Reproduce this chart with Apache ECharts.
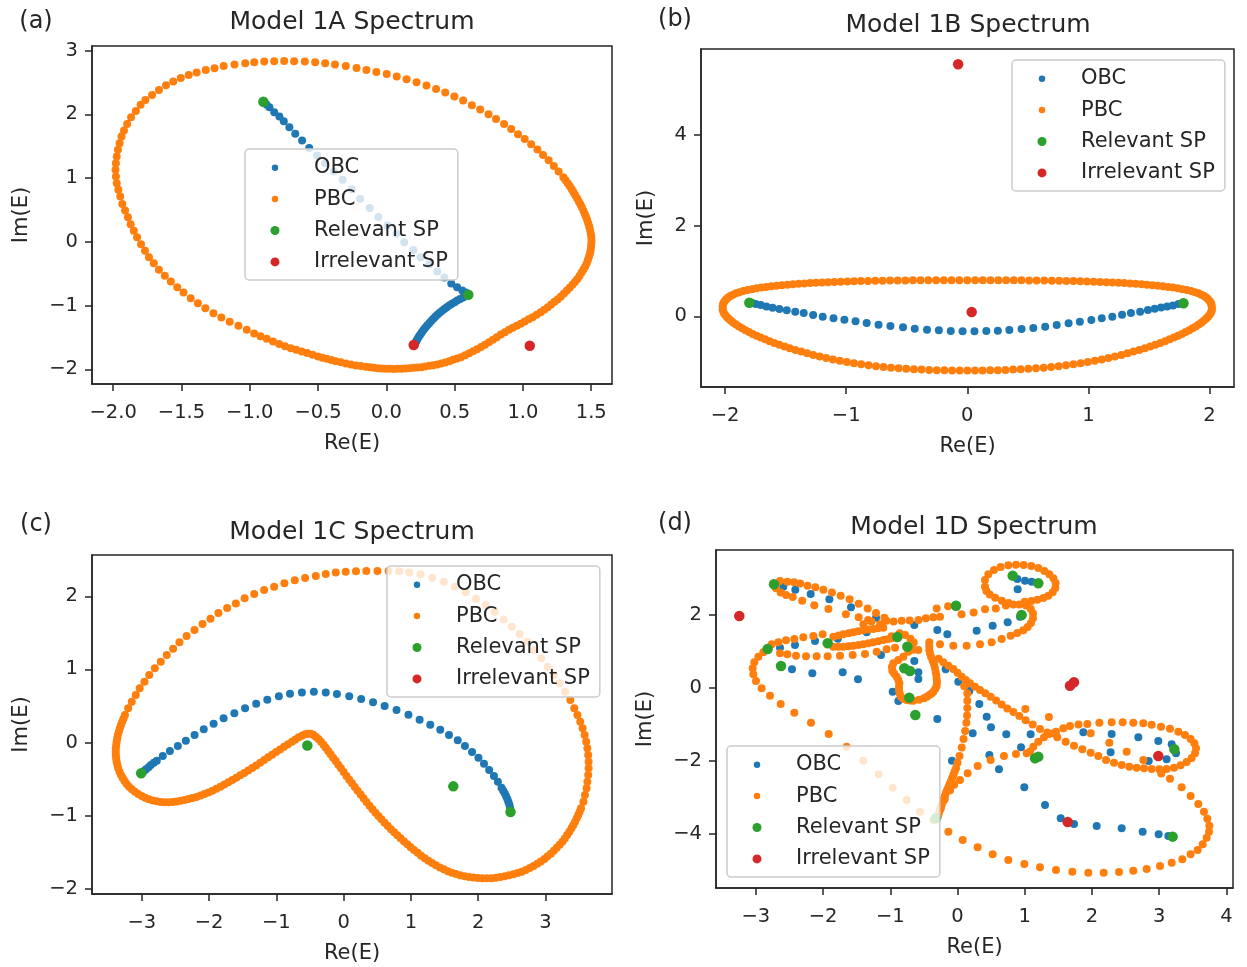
<!DOCTYPE html>
<html>
<head>
<meta charset="utf-8">
<script src="https://cdn.jsdelivr.net/npm/echarts@6/dist/echarts.min.js"></script>
<style>
html, body { margin: 0; padding: 0; background: #ffffff; }
#chart { width: 1247px; height: 967px; }
</style>
</head>
<body>
<div id="chart"></div>
<script>
// ---------------- Model 1A ----------------
const obcA = [[-0.9,2.197],[-0.878,2.155],[-0.856,2.113],[-0.821,2.035],[-0.783,1.967],[-0.751,1.893],[-0.710,1.799],[-0.667,1.695],[-0.617,1.590],[-0.565,1.475],[-0.507,1.355],[-0.448,1.234],[-0.384,1.104],[-0.320,0.973],[-0.253,0.826],[-0.192,0.675],[-0.122,0.533],[-0.058,0.392],[0.009,0.256],[0.073,0.126],[0.131,-0.005],[0.198,-0.126],[0.250,-0.241],[0.314,-0.350],[0.373,-0.465],[0.425,-0.560],[0.475,-0.654],[0.518,-0.711],[0.556,-0.764],[0.582,-0.795],[0.6,-0.83],[0.562,-0.873],[0.54,-0.897],[0.518,-0.920],[0.50,-0.946],[0.480,-0.973],[0.46,-0.999],[0.442,-1.025],[0.425,-1.054],[0.408,-1.083],[0.39,-1.114],[0.373,-1.145],[0.358,-1.176],[0.344,-1.208],[0.328,-1.242],[0.314,-1.276],[0.30,-1.307],[0.288,-1.339],[0.276,-1.37],[0.265,-1.402],[0.255,-1.433],[0.245,-1.464],[0.236,-1.495],[0.227,-1.527],[0.22,-1.555],[0.215,-1.580],[0.21,-1.60]];
const pbcA = [[-1.258,2.725],[-1.191,2.762],[-1.112,2.782],[-1.033,2.803],[-0.967,2.819],[-0.894,2.829],[-0.821,2.835],[-0.748,2.840],[-0.675,2.835],[-0.597,2.829],[-0.521,2.819],[-0.448,2.803],[-0.376,2.782],[-0.297,2.762],[-0.218,2.730],[-0.146,2.699],[-0.073,2.667],[0.003,2.636],[0.076,2.594],[0.148,2.552],[0.221,2.505],[0.294,2.453],[0.364,2.401],[0.431,2.343],[0.498,2.280],[0.562,2.218],[0.626,2.144],[0.687,2.076],[0.748,2.003],[0.803,1.930],[0.862,1.851],[0.914,1.773],
[0.964,1.689],[1.013,1.616],[1.060,1.532],[1.106,1.449],[1.147,1.365],[1.188,1.281],[1.226,1.192],[1.261,1.104],[1.296,1.015],[1.312,0.968],[1.328,0.921],[1.343,0.874],[1.357,0.826],[1.37,0.779],[1.383,0.732],[1.396,0.683],[1.409,0.633],[1.421,0.586],[1.432,0.539],[1.443,0.489],[1.453,0.439],[1.462,0.392],[1.470,0.345],[1.478,0.293],[1.485,0.241],[1.491,0.189],[1.496,0.136],[1.5,0.084],[1.502,0.031],[1.501,-0.021],[1.499,-0.073],[1.496,-0.126],[1.491,-0.178],[1.484,-0.23],[1.476,-0.282],[1.467,-0.335],[1.456,-0.387],[1.443,-0.434],[1.429,-0.481],[1.414,-0.534],[1.397,-0.586],[1.38,-0.63],[1.362,-0.675],[1.342,-0.72],[1.322,-0.764],[1.3,-0.811],[1.278,-0.858],[1.255,-0.9],[1.231,-0.941],[1.207,-0.983],[1.182,-1.025],[1.156,-1.065],[1.130,-1.104],[1.1,-1.143],[1.071,-1.182],[1.042,-1.216],[1.013,-1.25],[0.984,-1.284],[0.955,-1.318],[0.926,-1.35],[0.897,-1.381],[0.868,-1.417],[0.838,-1.454],[0.809,-1.496],[0.780,-1.538],[0.751,-1.577],[0.722,-1.616],[0.693,-1.65],[0.664,-1.684],[0.635,-1.716],[0.606,-1.747],[0.577,-1.779],[0.547,-1.81],[0.518,-1.831],[0.489,-1.851],[0.46,-1.872],[0.431,-1.893],[0.402,-1.909],[0.373,-1.925],[0.344,-1.936],[0.314,-1.946],[0.285,-1.957],[0.256,-1.967],[0.227,-1.972],[0.198,-1.977],[0.169,-1.982],[0.140,-1.987],[0.111,-1.99],[0.082,-1.993],[0.052,-1.994],[0.023,-1.993],[-0.006,-1.99],[-0.035,-1.987],[-0.064,-1.982],[-0.093,-1.977],[-0.122,-1.969],[-0.151,-1.961],
[-0.188,-1.95],[-0.224,-1.940],[-0.26,-1.925],[-0.297,-1.909],[-0.333,-1.89],[-0.370,-1.872],[-0.403,-1.854],[-0.437,-1.836],[-0.469,-1.818],[-0.501,-1.799],[-0.54,-1.772],[-0.58,-1.745],[-0.62,-1.72],[-0.66,-1.695],[-0.70,-1.67],[-0.742,-1.64],[-0.785,-1.605],[-0.83,-1.564],[-0.876,-1.522],[-0.922,-1.482],[-0.968,-1.44],[-1.022,-1.381],[-1.083,-1.318],[-1.147,-1.255],[-1.208,-1.187],[-1.266,-1.119],[-1.325,-1.041],[-1.380,-0.962],[-1.432,-0.884],[-1.485,-0.795],[-1.531,-0.711],[-1.578,-0.622],[-1.622,-0.533],[-1.665,-0.439],[-1.703,-0.335],[-1.738,-0.241],[-1.767,-0.141],[-1.796,-0.037],[-1.825,0.073],[-1.849,0.173],[-1.872,0.277],[-1.892,0.387],[-1.913,0.492],[-1.933,0.596],[-1.948,0.711],[-1.962,0.816],[-1.974,0.921],[-1.980,1.025],[-1.983,1.130],[-1.980,1.234],[-1.974,1.339],[-1.965,1.444],[-1.953,1.548],[-1.939,1.653],[-1.921,1.747],[-1.898,1.851],[-1.869,1.956],[-1.834,2.055],[-1.799,2.150],[-1.764,2.228],[-1.715,2.306],[-1.665,2.385],[-1.613,2.458],[-1.560,2.516],[-1.505,2.573],[-1.447,2.620],[-1.389,2.657],[-1.322,2.699]];
const relA = [[-0.9,2.2],[0.6,-0.83]];
const irrA = [[0.2,-1.62],[1.05,-1.63]];
const ticksAX = [-2,-1.5,-1,-0.5,0,0.5,1,1.5];
const ticksAY = [-2,-1,0,1,2,3];

// ---------------- Model 1B ----------------
const obcB = [[-1.78,0.30],[-1.748,0.272],[-1.706,0.250],[-1.659,0.221],[-1.608,0.192],[-1.552,0.162],[-1.491,0.133],[-1.421,0.104],[-1.351,0.074],[-1.273,0.030],[-1.194,-0.006],[-1.105,-0.043],[-1.015,-0.072],[-0.923,-0.109],[-0.831,-0.146],[-0.733,-0.183],[-0.635,-0.212],[-0.531,-0.241],[-0.434,-0.271],[-0.333,-0.293],[-0.235,-0.307],[-0.137,-0.322],[-0.039,-0.329],[0.059,-0.329],[0.157,-0.322],[0.252,-0.315],[0.347,-0.300],[0.448,-0.278],[0.545,-0.256],[0.643,-0.227],[0.738,-0.190],[0.836,-0.153],[0.929,-0.117],[1.024,-0.080],[1.110,-0.043],[1.197,-0.006],[1.278,0.037],[1.351,0.074],[1.427,0.104],[1.491,0.140],[1.547,0.170],[1.600,0.199],[1.650,0.221],[1.698,0.243],[1.743,0.272],[1.785,0.287]];
const pbcB = [[-2.02,0.22],[-2.018,0.26],[-2.012,0.30],[-2.003,0.34],[-1.99,0.38],[-1.975,0.415],[-1.957,0.45],[-1.935,0.48],[-1.91,0.51],[-1.882,0.535],[-1.85,0.56],[-1.815,0.58],[-1.778,0.60],[-1.74,0.618],[-1.70,0.635],[-1.66,0.65],[-1.618,0.664],[-1.575,0.676],[-1.53,0.688],[-1.485,0.699],[-1.44,0.709],[-1.393,0.718],[-1.346,0.727],[-1.298,0.735],[-1.25,0.742],[-1.2,0.749],[-1.15,0.755],[-1.098,0.761],[-1.045,0.766],[-0.99,0.771],[-0.935,0.775],[-0.878,0.779],[-0.82,0.782],[-0.76,0.785],[-0.70,0.788],[-0.638,0.79],[-0.575,0.792],[-0.512,0.794],[-0.449,0.795],[-0.386,0.796],[-0.322,0.797],[-0.258,0.798],[-0.194,0.798],[-0.13,0.799],[-0.066,0.799],[0.0,0.799],[0.064,0.799],[0.128,0.799],[0.192,0.798],[0.256,0.798],[0.32,0.797],[0.384,0.796],[0.447,0.795],[0.51,0.794],[0.573,0.792],[0.636,0.79],[0.698,0.788],[0.758,0.785],[0.818,0.782],[0.876,0.779],[0.933,0.775],[0.988,0.771],[1.043,0.766],[1.096,0.761],[1.148,0.755],[1.198,0.749],[1.248,0.742],[1.296,0.735],[1.344,0.727],[1.391,0.718],[1.438,0.709],[1.483,0.699],[1.528,0.688],[1.573,0.676],[1.616,0.664],[1.658,0.65],[1.698,0.635],[1.738,0.618],[1.776,0.60],[1.813,0.58],[1.848,0.56],[1.88,0.535],[1.908,0.51],[1.933,0.48],[1.955,0.45],[1.973,0.415],[1.988,0.38],[2.001,0.34],[2.01,0.30],[2.016,0.26],[2.018,0.22],
[2.02,0.16],[2.016,0.114],[2.009,0.072],[1.999,0.03],[1.986,-0.012],[1.97,-0.054],[1.952,-0.096],[1.932,-0.138],[1.91,-0.18],[1.886,-0.222],[1.86,-0.263],[1.832,-0.304],[1.803,-0.345],[1.772,-0.386],[1.74,-0.426],[1.706,-0.466],[1.67,-0.506],[1.633,-0.546],[1.594,-0.585],[1.553,-0.624],[1.51,-0.663],[1.466,-0.701],[1.42,-0.739],[1.372,-0.776],[1.323,-0.812],[1.272,-0.848],[1.219,-0.883],[1.165,-0.916],[1.11,-0.948],[1.053,-0.978],[0.995,-1.006],[0.936,-1.032],[0.876,-1.056],[0.815,-1.078],[0.754,-1.098],[0.692,-1.115],[0.63,-1.13],[0.567,-1.143],[0.504,-1.155],[0.441,-1.165],[0.378,-1.173],[0.315,-1.18],[0.252,-1.185],[0.189,-1.189],[0.126,-1.192],[0.063,-1.194],[0.0,-1.195],[-0.063,-1.194],[-0.126,-1.192],[-0.189,-1.189],[-0.252,-1.185],[-0.315,-1.18],[-0.378,-1.173],[-0.441,-1.165],[-0.504,-1.155],[-0.567,-1.143],[-0.63,-1.13],[-0.692,-1.115],[-0.754,-1.098],[-0.815,-1.078],[-0.876,-1.056],[-0.936,-1.032],[-0.995,-1.006],[-1.053,-0.978],[-1.11,-0.948],[-1.165,-0.916],[-1.219,-0.883],[-1.272,-0.848],[-1.323,-0.812],[-1.372,-0.776],[-1.42,-0.739],[-1.466,-0.701],[-1.51,-0.663],[-1.553,-0.624],[-1.594,-0.585],[-1.633,-0.546],[-1.67,-0.506],[-1.706,-0.466],[-1.74,-0.426],[-1.772,-0.386],[-1.803,-0.345],[-1.832,-0.304],[-1.86,-0.263],[-1.886,-0.222],[-1.91,-0.18],[-1.932,-0.138],[-1.952,-0.096],[-1.97,-0.054],[-1.986,-0.012],[-1.999,0.03],[-2.009,0.072],[-2.016,0.114],[-2.02,0.16]];
const relB = [[-1.8,0.3],[1.785,0.29]];
const irrB = [[-0.076,5.556],[0.036,0.096]];
const ticksBX = [-2,-1,0,1,2];
const ticksBY = [0,2,4];

// ---------------- Model 1C ----------------
const obcC = [[-3.0,-0.41],[-2.968,-0.39],[-2.937,-0.367],[-2.9,-0.337],[-2.866,-0.308],[-2.822,-0.278],[-2.778,-0.249],[-2.689,-0.185],[-2.583,-0.116],[-2.465,-0.048],[-2.346,0.025],[-2.216,0.103],[-2.080,0.180],[-1.933,0.258],[-1.785,0.331],[-1.625,0.399],[-1.466,0.468],[-1.300,0.531],[-1.135,0.586],[-0.963,0.632],[-0.798,0.668],[-0.621,0.686],[-0.443,0.696],[-0.266,0.686],[-0.100,0.664],[0.083,0.632],[0.260,0.595],[0.437,0.550],[0.609,0.499],[0.786,0.445],[0.963,0.381],[1.129,0.312],[1.288,0.244],[1.436,0.176],[1.566,0.103],[1.696,0.030],[1.803,-0.048],[1.909,-0.130],[2.004,-0.208],[2.086,-0.290],[2.163,-0.376],[2.234,-0.458],[2.293,-0.536],[2.346,-0.618],[2.37,-0.657],[2.394,-0.696],[2.415,-0.737],[2.435,-0.777],[2.45,-0.816],[2.465,-0.855],[2.474,-0.895],[2.48,-0.93]];
const pbcC = [[0.827,2.342],[0.668,2.347],[0.502,2.347],[0.337,2.347],[0.183,2.342],[0.030,2.338],[-0.118,2.328],[-0.266,2.306],[-0.414,2.278],[-0.573,2.251],[-0.727,2.219],[-0.881,2.178],[-1.034,2.132],[-1.182,2.087],[-1.330,2.032],[-1.472,1.973],[-1.602,1.904],[-1.732,1.840],[-1.862,1.772],[-1.980,1.694],[-2.098,1.621],[-2.217,1.539],[-2.335,1.457],[-2.441,1.371],[-2.535,1.284],[-2.630,1.197],[-2.719,1.106],[-2.807,1.015],[-2.890,0.924],[-2.961,0.832],[-3.032,0.741],[-3.091,0.650],[-3.150,0.559],[-3.203,0.468],[-3.251,0.376],
[-3.272,0.33],[-3.292,0.285],[-3.31,0.24],[-3.327,0.194],[-3.342,0.148],[-3.357,0.103],[-3.366,0.057],[-3.375,0.011],[-3.381,-0.034],[-3.387,-0.080],[-3.388,-0.125],[-3.387,-0.171],[-3.382,-0.216],[-3.375,-0.262],[-3.364,-0.307],[-3.351,-0.353],[-3.332,-0.4],[-3.310,-0.445],[-3.285,-0.487],[-3.257,-0.527],[-3.226,-0.567],[-3.191,-0.604],[-3.149,-0.64],[-3.103,-0.673],[-3.054,-0.703],[-3.002,-0.732],[-2.95,-0.757],[-2.896,-0.778],[-2.837,-0.793],[-2.778,-0.805],[-2.72,-0.813],[-2.660,-0.819],[-2.6,-0.818],[-2.541,-0.814],[-2.482,-0.806],[-2.423,-0.796],[-2.364,-0.785],[-2.305,-0.773],[-2.246,-0.76],[-2.187,-0.746],[-2.128,-0.726],[-2.069,-0.705],[-2.01,-0.683],[-1.950,-0.659],[-1.891,-0.632],[-1.832,-0.604],[-1.773,-0.575],[-1.714,-0.545],[-1.655,-0.513],[-1.596,-0.481],[-1.537,-0.449],[-1.478,-0.417],[-1.418,-0.383],[-1.359,-0.349],[-1.3,-0.313],[-1.241,-0.276],[-1.182,-0.24],[-1.123,-0.203],[-1.064,-0.167],[-1.005,-0.130],[-0.946,-0.094],[-0.887,-0.057],[-0.828,-0.023],[-0.768,0.011],[-0.718,0.041],[-0.668,0.071],[-0.62,0.094],[-0.573,0.112],[-0.532,0.12],[-0.491,0.121],[-0.452,0.105],[-0.414,0.080],[-0.375,0.047],[-0.337,0.011],[-0.3,-0.03],[-0.266,-0.071],[-0.23,-0.117],[-0.195,-0.162],[-0.157,-0.208],[-0.118,-0.253],[-0.08,-0.303],[-0.041,-0.353],[0.0,-0.405],[0.041,-0.458],[0.083,-0.508],[0.124,-0.559],[0.166,-0.609],[0.207,-0.659],[0.252,-0.712],[0.296,-0.764],[0.34,-0.814],[0.384,-0.864],[0.428,-0.912],[0.473,-0.960],[0.517,-1.006],[0.561,-1.051],[0.608,-1.097],[0.656,-1.142],[0.703,-1.186],[0.751,-1.229],[0.798,-1.27],[0.845,-1.311],[0.895,-1.352],[0.946,-1.393],[0.996,-1.432],[1.046,-1.471],[1.099,-1.51],[1.152,-1.548],[1.205,-1.583],[1.259,-1.617],[1.315,-1.65],[1.371,-1.681],[1.43,-1.709],[1.489,-1.736],[1.548,-1.76],[1.608,-1.781],[1.67,-1.8],[1.732,-1.818],[1.797,-1.83],[1.862,-1.840],[1.927,-1.848],[1.992,-1.854],[2.06,-1.857],[2.128,-1.859],[2.196,-1.856],[2.264,-1.850],[2.329,-1.841],[2.394,-1.831],[2.459,-1.818],[2.524,-1.804],[2.586,-1.787],[2.648,-1.768],[2.707,-1.744],[2.766,-1.717],[2.822,-1.689],[2.878,-1.658],[2.931,-1.627],[2.985,-1.594],[3.032,-1.558],[3.079,-1.521],[3.124,-1.481],[3.168,-1.439],[3.21,-1.399],[3.251,-1.357],[3.287,-1.312],[3.322,-1.266],[3.355,-1.22],[3.387,-1.174],[3.414,-1.129],[3.440,-1.083],[3.464,-1.038],[3.487,-0.992],[3.508,-0.946],[3.528,-0.901],
[3.564,-0.810],[3.587,-0.718],[3.611,-0.627],[3.623,-0.536],[3.635,-0.445],[3.641,-0.353],[3.641,-0.262],[3.635,-0.171],[3.623,-0.080],[3.605,0.011],[3.582,0.103],[3.552,0.194],[3.517,0.285],[3.475,0.376],[3.428,0.468],[3.369,0.582],[3.292,0.696],[3.209,0.810],[3.121,0.924],[3.032,1.038],[2.937,1.152],[2.837,1.266],[2.730,1.380],[2.618,1.485],[2.500,1.585],[2.376,1.685],[2.246,1.790],[2.110,1.881],[1.968,1.968],[1.814,2.055],[1.655,2.132],[1.489,2.201],[1.318,2.255],[1.141,2.301],[0.975,2.328]];
const relC = [[-3.01,-0.42],[-0.54,-0.04],[1.63,-0.6],[2.48,-0.95]];
const irrC = [];
const ticksCX = [-3,-2,-1,0,1,2,3];
const ticksCY = [-2,-1,0,1,2];

// ---------------- Model 1D ----------------
const obcD = [[-2.591,2.776],[-2.412,2.694],[-2.184,2.576],[-1.906,2.429],[-1.584,2.210],[-1.212,1.927],[-0.642,1.726],[-0.300,1.589],[-0.151,1.471],[-2.64,1.10],[-2.417,1.178],[-2.119,1.288],[-1.78,1.35],[-1.351,1.525],[-1.138,0.904],[-2.462,0.512],[-2.159,0.402],[-1.708,0.430],[-1.480,0.238],[-0.964,-0.1],[-0.880,-0.356],[-0.642,0.740],[-0.582,0.430],[-0.582,0.247],[-0.176,0.512],[-0.300,-0.849],[0.012,0.174],[0.176,-0.082],[0.325,-0.438],[0.434,-0.785],[0.498,-1.077],[0.226,-1.241],[0.726,-1.269],[1.088,-1.269],[0.945,-1.625],[0.474,-1.835],[0.617,-2.227],[0.994,-2.721],[1.302,-3.205],[1.535,-3.570],[1.733,-3.725],[2.070,-3.780],[2.442,-3.844],[2.754,-3.935],[2.992,-4.008],[3.136,-4.054],[1.872,-1.214],[2.293,-1.260],[2.278,-1.762],[2.690,-1.351],[2.987,-1.451],[2.844,-1.999],[3.111,-1.954],[3.186,-1.543],[3.250,-1.789],[-0.082,-1.990],[0.895,2.703],[0.890,2.987],[1.004,2.941],[1.103,2.913],[0.930,1.955],[0.746,1.799],[0.523,1.708],[0.285,1.571]];
const pbcD = [
[-2.74,2.86],[-2.64,2.93],[-2.53,2.91],[-2.43,2.895],[-2.34,2.86],[-2.23,2.80],[-2.115,2.76],[-1.995,2.69],[-1.867,2.62],[-1.738,2.53],[-1.604,2.43],[-1.47,2.31],[-1.336,2.18],[-1.212,2.055],[-1.088,1.927],
[-2.70,2.73],[-2.63,2.62],[-2.55,2.55],[-2.45,2.49],[-2.31,2.39],[-2.13,2.27],[-1.92,2.165],[-1.66,2.02],[-1.47,1.94],[-1.33,1.86],
[-1.40,1.75],[-1.28,1.82],[-1.15,1.75],[-1.06,1.84],[-0.95,1.82],[-0.83,1.84],[-0.71,1.85],[-0.58,1.86],[-0.47,1.91],[-0.36,1.94],[-0.26,1.95],
[-0.31,2.18],[-0.14,2.24],[0.06,2.02],[0.24,2.07],[0.41,2.155],[0.57,2.18],[0.72,2.26],[0.83,2.29],
[0.92,2.29],[1.02,2.26],[1.09,2.165],[1.123,2.04],[1.123,1.91],[1.093,1.78],[1.044,1.67],[0.979,1.58],[0.89,1.507],[0.791,1.434],[0.657,1.343],[0.508,1.251],[0.335,1.197],[0.136,1.16],[-0.062,1.16],[-0.26,1.197],
[0.409,2.776],[0.409,2.959],[0.459,3.114],[0.543,3.233],[0.642,3.315],[0.756,3.361],[0.870,3.379],[0.984,3.370],[1.098,3.343],[1.202,3.288],[1.292,3.206],[1.366,3.114],[1.426,3.005],[1.460,2.877],[1.455,2.740],[1.416,2.621],[1.351,2.530],[1.277,2.466],[1.188,2.420],[1.098,2.384],[1.0,2.36],
[0.43,2.66],[0.48,2.56],[0.56,2.47],[0.66,2.39],[0.76,2.33],
[-0.806,0.859],[-0.88,0.77],[-0.954,0.676],[-0.975,0.575],[-0.969,0.475],[-0.94,0.39],[-0.905,0.311],[-0.88,0.22],[-0.865,0.128],[-0.87,0.035],[-0.87,-0.055],[-0.86,-0.15],[-0.84,-0.237],[-0.8,-0.3],[-0.756,-0.329],[-0.705,-0.345],[-0.657,-0.347],[-0.57,-0.32],[-0.498,-0.283],[-0.455,-0.24],[-0.419,-0.192],[-0.385,-0.15],[-0.359,-0.1],[-0.33,-0.02],[-0.31,0.055],[-0.305,0.15],[-0.31,0.247],[-0.315,0.35],[-0.325,0.448],[-0.335,0.55],[-0.35,0.649],[-0.37,0.75],[-0.394,0.859],[-0.41,0.95],[-0.419,1.041],[-0.42,1.15],[-0.419,1.251],
[-0.731,0.996],[-0.66,1.05],[-0.583,1.041],[-0.98,1.42],[-0.86,1.5],[-0.78,1.45],[-0.7,1.35],[-0.65,1.25],
[-0.28,0.80],[-0.211,0.703],[-0.136,0.61],[-0.062,0.521],[0.0,0.42],[0.062,0.311],[0.124,0.22],[0.186,0.128],[0.26,0.035],[0.335,-0.055],[0.414,-0.146],[0.493,-0.237],[0.575,-0.34],[0.657,-0.45],[0.741,-0.56],[0.831,-0.66],[0.92,-0.77],[1.014,-0.88],[1.118,-1.0],[1.227,-1.12],[1.336,-1.22],[1.43,-1.24],
[1.01,-0.575],[1.36,-0.795],
[0.1,0.05],[0.146,-0.15],[0.146,-0.35],[0.146,-0.55],[0.142,-0.75],[0.132,-0.95],[0.114,-1.18],[0.09,-1.4],[0.062,-1.63],[0.03,-1.86],[0.0,-2.05],[-0.022,-2.2],[-0.042,-2.29],[-0.062,-2.383],[-0.082,-2.475],[-0.102,-2.565],[-0.12,-2.645],[-0.136,-2.721],[-0.154,-2.795],[-0.171,-2.867],[-0.186,-2.945],[-0.201,-3.022],[-0.216,-3.1],[-0.231,-3.177],[-0.246,-3.25],[-0.26,-3.323],[-0.272,-3.4],[-0.285,-3.479],[-0.3,-3.55],
[-0.25,-3.3],[-0.19,-3.05],[-0.11,-2.8],[-0.05,-2.65],[0.037,-2.52],[0.151,-2.337],[0.300,-2.136],[0.493,-1.972],[0.691,-1.862],[0.870,-1.807],[1.029,-1.789],
[1.08,-1.74],[1.128,-1.607],[1.202,-1.47],[1.287,-1.351],[1.366,-1.26],[1.465,-1.196],[1.574,-1.104],[1.673,-1.04],[1.80,-1.0],[1.931,-0.986],[2.110,-0.949],[2.293,-0.940],[2.457,-0.940],[2.615,-0.949],[2.764,-0.967],[2.888,-1.004],[3.027,-1.059],[3.161,-1.113],[3.285,-1.196],[3.384,-1.287],[3.468,-1.396],[3.523,-1.515],[3.548,-1.652],[3.533,-1.789],[3.483,-1.917],[3.409,-2.027],[3.319,-2.118],[3.220,-2.182],[3.111,-2.218],[3.002,-2.227],[2.888,-2.218],[2.774,-2.200],[2.665,-2.182],[2.556,-2.155],[2.442,-2.109],[2.328,-2.045],[2.209,-1.972],[2.095,-1.862],[1.981,-1.771],[1.857,-1.680],[1.733,-1.579],[1.609,-1.470],[1.485,-1.351],
[1.981,-1.241],[2.258,-1.497],[2.516,-1.743],[2.764,-1.972],
[-0.136,-3.935],[0.077,-4.163],[0.300,-4.364],[0.523,-4.556],[0.756,-4.711],[0.994,-4.821],[1.227,-4.912],[1.465,-4.985],[1.708,-5.031],[1.946,-5.058],[2.174,-5.058],[2.402,-5.040],[2.615,-5.004],[2.814,-4.958],[3.012,-4.876],[3.186,-4.784],[3.344,-4.693],[3.468,-4.556],[3.572,-4.437],[3.647,-4.282],[3.706,-4.099],[3.741,-3.935],[3.746,-3.771],[3.716,-3.579],[3.666,-3.387],[3.582,-3.177],[3.468,-2.958],[3.334,-2.721],[3.161,-2.483],[3.03,-2.34],
[-2.764,1.197],[-2.665,1.251],[-2.551,1.306],[-2.427,1.343],[-2.293,1.388],[-2.144,1.425],[-2.005,1.471],
[-1.847,1.407],[-1.77,1.44],[-1.698,1.471],[-1.62,1.5],[-1.55,1.525],[-1.475,1.555],[-1.40,1.58],[-1.325,1.6],[-1.252,1.617],[-1.18,1.635],[-1.103,1.653],
[-1.847,1.133],[-1.77,1.133],[-1.698,1.133],[-1.62,1.145],[-1.55,1.16],[-1.475,1.178],[-1.40,1.197],[-1.325,1.224],[-1.252,1.251],[-1.18,1.283],[-1.103,1.315],[-1.04,1.338],[-0.979,1.361],
[-2.640,0.950],[-2.531,0.923],[-2.402,0.886],[-2.253,0.868],[-2.095,0.868],[-1.931,0.868],[-1.748,0.886],[-1.559,0.904],[-1.376,0.932],[-1.202,0.996],[-1.054,1.060],[-0.929,1.105],
[-2.888,0.977],[-2.962,0.859],[-3.022,0.703],[-3.047,0.539],[-3.037,0.375],[-2.997,0.192],[-2.913,-0.009],[-2.789,-0.210],[-2.630,-0.438],[-2.427,-0.675],[-2.179,-0.949],[-1.916,-1.260],[-1.649,-1.607],[-1.401,-1.990],[-1.173,-2.364],[-0.964,-2.730],[-0.756,-3.068],[-0.558,-3.387],[-0.359,-3.616]];
const relD = [[-2.729,2.84],[-2.824,1.069],[-2.625,0.603],[-1.931,1.224],[-0.895,1.397],[-0.746,1.133],[-0.791,0.539],[-0.707,0.466],[-0.717,-0.264],[-0.627,-0.739],[-0.022,2.256],[0.821,3.078],[1.202,2.868],[0.954,2.0],[1.153,-1.926],[1.202,-1.88],[3.225,-1.679],[3.2,-4.072],[-0.32,-3.57]];
const irrD = [[-3.245,1.973],[1.673,0.064],[1.733,0.156],[2.987,-1.862],[1.639,-3.670]];
const ticksDX = [-3,-2,-1,0,1,2,3,4];
const ticksDY = [-4,-2,0,2];

// ---------------- layout & styling ----------------
const FONT = 'DejaVu Sans';
const INK = '#262626';
const COLORS = { obc: '#1f77b4', pbc: '#ff7f0e', rel: '#2ca02c', irr: '#d62728' };
const DOT = 8, SPDOT = 10.5;
const ICON_SMALL = 'path://M0,0L0,0M12,12L12,12M2.75,6A3.25,3.25,0,1,0,9.25,6A3.25,3.25,0,1,0,2.75,6Z';
const ICON_BIG = 'path://M0,0L0,0M12,12L12,12M1.5,6A4.5,4.5,0,1,0,10.5,6A4.5,4.5,0,1,0,1.5,6Z';

const panels = [
  { title: 'Model 1A Spectrum', tag: '(a)', box: [92, 46, 612, 384], xr: [-2.155, 1.652], yr: [-2.231, 3.074], xt: ticksAX, yt: ticksAY, xdec: 1,
    obc: obcA, pbc: pbcA, rel: relA, irr: irrA, legend: [245, 149], titlePos: [352, 10], tagPos: [36, 10], yNameGap: 60 },
  { title: 'Model 1B Spectrum', tag: '(b)', box: [701, 49, 1234, 387], xr: [-2.199, 2.202], yr: [-1.556, 5.894], xt: ticksBX, yt: ticksBY, xdec: 0,
    obc: obcB, pbc: pbcB, rel: relB, irr: irrB, legend: [1012, 60], titlePos: [968, 13], tagPos: [675, 8], yNameGap: 44 },
  { title: 'Model 1C Spectrum', tag: '(c)', box: [92, 555, 612, 894], xr: [-3.741, 3.989], yr: [-2.073, 2.566], xt: ticksCX, yt: ticksCY, xdec: 0,
    obc: obcC, pbc: pbcC, rel: relC, irr: irrC, legend: [387, 566], titlePos: [352, 520], tagPos: [36, 513], yNameGap: 60 },
  { title: 'Model 1D Spectrum', tag: '(d)', box: [716, 550, 1233, 888], xr: [-3.592, 4.098], yr: [-5.479, 3.781], xt: ticksDX, yt: ticksDY, xdec: 0,
    obc: obcD, pbc: pbcD, rel: relD, irr: irrD, legend: [727, 746], titlePos: [974, 515], tagPos: [675, 512], yNameGap: 60 }
];

function fmt(dec) {
  return function (v) { return (v < 0 ? '\u2212' : '') + Math.abs(v).toFixed(dec); };
}

const option = {
  animation: false,
  backgroundColor: '#ffffff',
  textStyle: { fontFamily: FONT, color: INK },
  title: [], grid: [], xAxis: [], yAxis: [], legend: [], series: []
};

panels.forEach(function (p, i) {
  const [x0, y0, x1, y1] = p.box;
  option.title.push({ text: p.title, left: p.titlePos[0], top: p.titlePos[1], textAlign: 'center', padding: 0,
    textStyle: { fontFamily: FONT, fontSize: 25, fontWeight: 'normal', color: INK } });
  option.title.push({ text: p.tag, left: p.tagPos[0], top: p.tagPos[1], textAlign: 'center', padding: 0,
    textStyle: { fontFamily: FONT, fontSize: 24, fontWeight: 'normal', color: INK } });
  option.grid.push({ left: x0, top: y0, width: x1 - x0, height: y1 - y0, show: true,
    borderColor: INK, borderWidth: 1.5, backgroundColor: 'transparent', containLabel: false });
  const axisCommon = {
    type: 'value', gridIndex: i, nameLocation: 'middle',
    nameTextStyle: { fontFamily: FONT, fontSize: 21, color: INK },
    axisLine: { show: true, onZero: false, lineStyle: { color: INK, width: 1.5 } },
    splitLine: { show: false }
  };
  option.xAxis.push(Object.assign({}, axisCommon, {
    min: p.xr[0], max: p.xr[1], name: 'Re(E)', nameGap: 49,
    axisTick: { show: true, inside: false, length: 7, lineStyle: { color: INK, width: 1.5 }, customValues: p.xt },
    axisLabel: { customValues: p.xt, formatter: fmt(p.xdec), fontFamily: FONT, fontSize: 19.5, color: INK, margin: 19 }
  }));
  option.yAxis.push(Object.assign({}, axisCommon, {
    min: p.yr[0], max: p.yr[1], name: 'Im(E)', nameGap: p.yNameGap,
    axisTick: { show: true, inside: false, length: 7, lineStyle: { color: INK, width: 1.5 }, customValues: p.yt },
    axisLabel: { customValues: p.yt, formatter: fmt(0), fontFamily: FONT, fontSize: 19.5, color: INK, margin: 14 }
  }));
  option.legend.push({
    orient: 'vertical', left: p.legend[0], top: p.legend[1], selectedMode: false,
    data: [
      { name: 'OBC', icon: ICON_SMALL }, { name: 'PBC', icon: ICON_SMALL },
      { name: 'Relevant SP', icon: ICON_BIG }, { name: 'Irrelevant SP', icon: ICON_BIG }
    ],
    itemWidth: 12, itemHeight: 12, itemGap: 9.4,
    padding: [7.7, 10, 7.1, 24],
    textStyle: { fontFamily: FONT, fontSize: 21, color: INK, lineHeight: 22, padding: [0, 0, 0, 28] },
    backgroundColor: 'rgba(255,255,255,0.8)', borderColor: '#cccccc', borderWidth: 1.5, borderRadius: 4
  });
  const mk = function (name, data, color, size) {
    return { name: name, type: 'scatter', xAxisIndex: i, yAxisIndex: i, data: data, symbol: 'circle', symbolSize: size,
      itemStyle: { color: color, opacity: 1 }, emphasis: { disabled: true }, silent: true, large: false };
  };
  option.series.push(mk('OBC', p.obc, COLORS.obc, DOT));
  option.series.push(mk('PBC', p.pbc, COLORS.pbc, DOT));
  option.series.push(mk('Relevant SP', p.rel, COLORS.rel, SPDOT));
  option.series.push(mk('Irrelevant SP', p.irr, COLORS.irr, SPDOT));
});

const chart = echarts.init(document.getElementById('chart'), null, { renderer: 'canvas' });
chart.setOption(option);
</script>
</body>
</html>
